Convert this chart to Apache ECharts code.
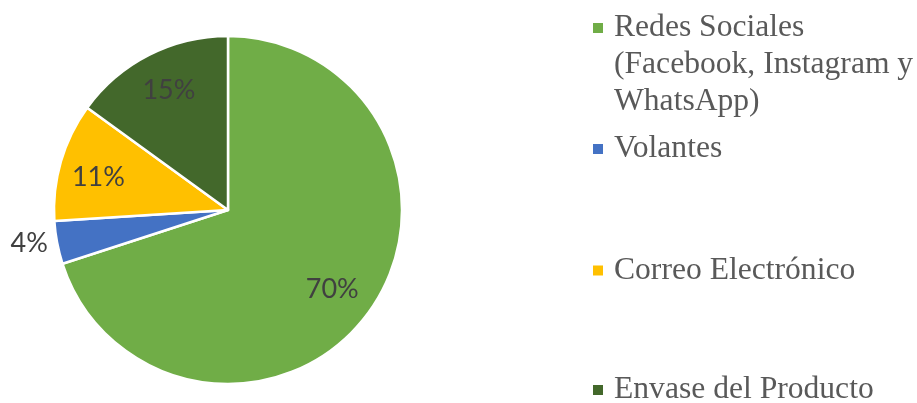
<!DOCTYPE html>
<html>
<head>
<meta charset="utf-8">
<script src="https://cdn.jsdelivr.net/npm/echarts@6/dist/echarts.min.js"></script>
<style>
  html, body { margin: 0; padding: 0; background: #fff; }
  #chart { width: 917px; height: 403px; }
</style>
</head>
<body>
<div id="chart"></div>
<script>
// Canales de difusión (porcentaje de respuestas)
const categories = [
  'Redes Sociales\n(Facebook, Instagram y\nWhatsApp)',
  'Volantes',
  'Correo Electrónico',
  'Envase del Producto'
];
const values = [70, 4, 11, 15];
const colors = ['#70AD47', '#4472C4', '#FFC000', '#43682B'];

// Pie geometry and label placement (fraction of radius, angle nudge in degrees)
const CX = 228, CY = 210, R = 174;
const labelRadius = [0.75, 1.158, 0.77, 0.775];
const labelNudge = [1, 1.5, -1.5, 1];

// Vertical position of each legend row (icon centre, px)
const legendRows = [28, 149, 270.5, 390];
const LINE_H = 37;

const chart = echarts.init(document.getElementById('chart'), null, { renderer: 'canvas' });

const legendText = {
  fontFamily: '"Liberation Serif", "Times New Roman", serif',
  fontSize: 31.6,
  lineHeight: LINE_H,
  color: '#595959',
  padding: [0, 0, 0, 5]
};

// Multi-line entries keep their first line level with the colour key:
// blank lines are prepended so the centred text block lines up.
const legends = categories.map((name, i) => {
  const extra = name.split('\n').length - 1;
  const pad = '\n'.repeat(extra);
  const blockHalf = (2 * extra + 1) * LINE_H / 2;
  return {
    orient: 'vertical',
    left: 591,
    top: legendRows[i] - blockHalf,
    padding: 0,
    itemWidth: 12,
    itemHeight: 12,
    icon: 'rect',
    selectedMode: false,
    data: [name],
    formatter: n => pad + n,
    textStyle: legendText
  };
});

// Mid-angle (degrees clockwise from 12 o'clock) of each slice
const total = values.reduce((a, b) => a + b, 0);
const midAngles = [];
values.reduce((acc, v) => { midAngles.push((acc + v / 2) / total * 360); return acc + v; }, 0);

chart.setOption({
  animation: false,
  color: colors,
  legend: legends,
  series: [{
    type: 'pie',
    center: [CX, CY],
    radius: R,
    startAngle: 90,
    clockwise: true,
    avoidLabelOverlap: false,
    itemStyle: { borderColor: '#ffffff', borderWidth: 2.5 },
    label: {
      show: true,
      position: 'inside',
      formatter: '{c}%',
      fontFamily: 'Lato, "Open Sans", sans-serif',
      fontSize: 27,
      color: '#404040'
    },
    labelLine: { show: false },
    labelLayout: function (p) {
      const i = p.dataIndex;
      const a = (midAngles[i] + labelNudge[i]) * Math.PI / 180;
      const d = R * labelRadius[i];
      return {
        x: CX + d * Math.sin(a),
        y: CY - d * Math.cos(a) + 1,
        align: 'center',
        verticalAlign: 'middle'
      };
    },
    data: categories.map((name, i) => ({ name: name, value: values[i] }))
  }]
});
</script>
</body>
</html>
